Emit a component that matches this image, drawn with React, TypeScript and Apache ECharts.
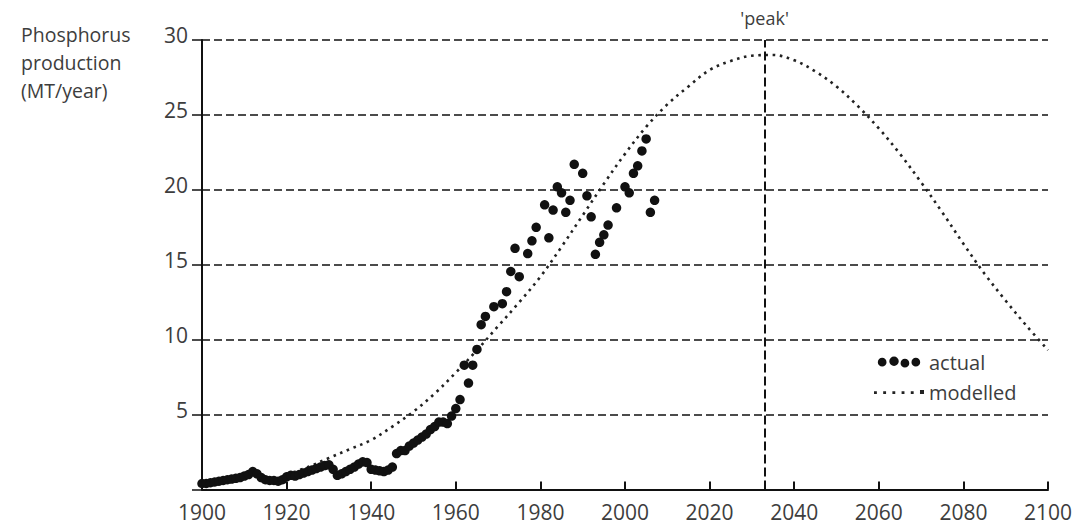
import React, { useEffect, useRef } from "react";
import * as echarts from "echarts";

// ---- data ----
const actualYears = [
  1900, 1901, 1902, 1903, 1904, 1905, 1906, 1907, 1908, 1909,
  1910, 1911, 1912, 1913, 1914, 1915, 1916, 1917, 1918, 1919,
  1920, 1921, 1922, 1923, 1924, 1925, 1926, 1927, 1928, 1929,
  1930, 1931, 1932, 1933, 1934, 1935, 1936, 1937, 1938, 1939,
  1940, 1941, 1942, 1943, 1944, 1945, 1946, 1947, 1948, 1949,
  1950, 1951, 1952, 1953, 1954, 1955, 1956, 1957, 1958, 1959,
  1960, 1961, 1962, 1963, 1964, 1965, 1966, 1967, 1969, 1971,
  1972, 1973, 1974, 1975, 1977, 1978, 1979, 1981, 1982, 1983,
  1984, 1985, 1986, 1987, 1988, 1990, 1991, 1992, 1993, 1994,
  1995, 1996, 1998, 2000, 2001, 2002, 2003, 2004, 2005, 2006, 2007,
];
const actualValues = [
  0.4, 0.4, 0.45, 0.5, 0.55, 0.6, 0.65, 0.7, 0.75, 0.8,
  0.9, 1.0, 1.2, 1.05, 0.8, 0.65, 0.6, 0.6, 0.55, 0.65,
  0.85, 0.95, 0.9, 1.0, 1.1, 1.2, 1.3, 1.4, 1.5, 1.6,
  1.65, 1.35, 0.95, 1.05, 1.2, 1.35, 1.5, 1.7, 1.85, 1.8,
  1.35, 1.3, 1.25, 1.2, 1.3, 1.5, 2.4, 2.6, 2.6, 2.9,
  3.1, 3.3, 3.5, 3.7, 4.0, 4.2, 4.5, 4.5, 4.4, 4.9,
  5.4, 6.0, 8.3, 7.1, 8.3, 9.35, 11.0, 11.55, 12.2, 12.4,
  13.2, 14.55, 16.1, 14.2, 15.75, 16.6, 17.5, 19.0, 16.8, 18.65,
  20.2, 19.8, 18.5, 19.3, 21.7, 21.1, 19.6, 18.2, 15.7, 16.5,
  17.0, 17.65, 18.8, 20.2, 19.8, 21.1, 21.6, 22.6, 23.4, 18.5, 19.3,
];

const modelYears = [
  1920, 1925, 1930, 1935, 1940, 1945, 1950, 1955, 1960, 1965,
  1970, 1975, 1980, 1985, 1990, 1995, 2000, 2005, 2010, 2015,
  2020, 2025, 2030, 2035, 2040, 2045, 2050, 2055, 2060, 2065,
  2070, 2075, 2080, 2085, 2090, 2095, 2100,
];
const modelValues = [
  1.0, 1.5, 2.1, 2.7, 3.3, 4.2, 5.2, 6.4, 7.8, 9.3,
  10.9, 12.5, 14.2, 16.2, 18.3, 20.4, 22.4, 24.2, 25.7, 26.9,
  28.0, 28.6, 28.95, 29.0, 28.65, 27.9, 26.9, 25.6, 24.1, 22.4,
  20.5, 18.5, 16.4, 14.4, 12.6, 10.9, 9.3,
];

const peakYear = 2033;
const yTicks = [0, 5, 10, 15, 20, 25, 30];
const xTicks = [1900, 1920, 1940, 1960, 1980, 2000, 2020, 2040, 2060, 2080, 2100];

const FONT = "Open Sans";
const TEXT = "#3d3d3d";
const INK = "#111";

function circle(cx: number, cy: number, r: number) {
  return `M${cx - r},${cy}a${r},${r} 0 1,0 ${2 * r},0a${r},${r} 0 1,0 ${-2 * r},0z`;
}
const dotsIcon =
  "path://" +
  [circle(5, 6, 4.6), circle(17.5, 5, 5), circle(29, 7, 4.6), circle(40.5, 6, 4.6)].join("");
const dottedIcon =
  "path://" +
  [0, 8, 16, 24, 32].map((x) => `M${x},1h2.5v2.5h-2.5z`).join("") +
  "M40,0h3.5v3.5h-3.5z";

export default function App() {
  const ref = useRef<HTMLDivElement>(null);
  useEffect(() => {
    if (!ref.current) return;
    const chart = echarts.init(ref.current, undefined, { renderer: "svg" });
    const actual = actualYears.map((y, i) => [y, actualValues[i]]);
    const model = modelYears.map((y, i) => [y, modelValues[i]]);
    chart.setOption({
      animation: false,
      backgroundColor: "#fff",
      textStyle: { fontFamily: FONT },
      title: {
        text: "Phosphorus\nproduction\n(MT/year)",
        left: 21,
        top: 20,
        padding: 0,
        textStyle: {
          fontFamily: FONT,
          fontSize: 19.5,
          fontWeight: "normal",
          color: TEXT,
          lineHeight: 28,
        },
      },
      legend: {
        orient: "vertical",
        left: 869,
        top: 347,
        itemWidth: 50,
        itemHeight: 11,
        itemGap: 10,
        symbolKeepAspect: true,
        data: [
          { name: "actual", icon: dotsIcon },
          { name: "modelled", icon: dottedIcon },
        ],
        itemStyle: { borderWidth: 0, opacity: 1 },
        textStyle: { fontFamily: FONT, fontSize: 20, color: TEXT, lineHeight: 20 },
      },
      grid: { left: 202, right: 34, top: 40, bottom: 35.5, containLabel: false },
      xAxis: {
        type: "value",
        min: xTicks[0],
        max: xTicks[xTicks.length - 1],
        interval: 20,
        axisLine: { show: true, onZero: false, lineStyle: { color: INK, width: 2 } },
        axisTick: { show: true, inside: true, length: 8, lineStyle: { color: INK, width: 2 } },
        axisLabel: {
          color: TEXT,
          fontFamily: FONT,
          fontSize: 21,
          margin: 12,
          formatter: (v: number) => String(v),
        },
        splitLine: { show: false },
      },
      yAxis: {
        type: "value",
        min: yTicks[0],
        max: yTicks[yTicks.length - 1],
        interval: 5,
        axisLine: { show: true, onZero: false, lineStyle: { color: INK, width: 2 } },
        axisTick: { show: true, inside: false, length: 10, lineStyle: { color: INK, width: 1.5 } },
        axisLabel: {
          color: TEXT,
          fontFamily: FONT,
          fontSize: 21,
          margin: 14,
          verticalAlign: "bottom",
          lineHeight: 10,
          formatter: (v: number) => (v === 0 ? "" : String(v)),
        },
        splitLine: {
          show: true,
          lineStyle: { color: INK, width: 1.5, type: [8, 4] },
        },
      },
      series: [
        {
          name: "modelled",
          type: "line",
          data: model,
          smooth: 0.35,
          showSymbol: false,
          symbol: "none",
          color: "#222",
          z: 2,
          lineStyle: { color: "#222", width: 2.6, type: [2.6, 4.6], cap: "butt" },
          markLine: {
            silent: true,
            symbol: ["none", "none"],
            lineStyle: { color: INK, width: 2, type: [9, 4] },
            label: {
              show: true,
              position: "end",
              formatter: "'peak'",
              color: TEXT,
              fontFamily: FONT,
              fontSize: 18,
              distance: 13,
            },
            data: [
              [
                { coord: [peakYear, 0] },
                { coord: [peakYear, 30] },
              ],
            ],
          },
        },
        {
          name: "actual",
          type: "scatter",
          data: actual,
          symbol: "circle",
          symbolSize: 9.5,
          color: "#111",
          itemStyle: { color: "#111", opacity: 1 },
          z: 3,
        },
      ],
    });
    return () => chart.dispose();
  }, []);
  return (
    <div
      ref={ref}
      style={{ position: "fixed", left: 0, top: 0, width: 1082, height: 525 }}
    />
  );
}
